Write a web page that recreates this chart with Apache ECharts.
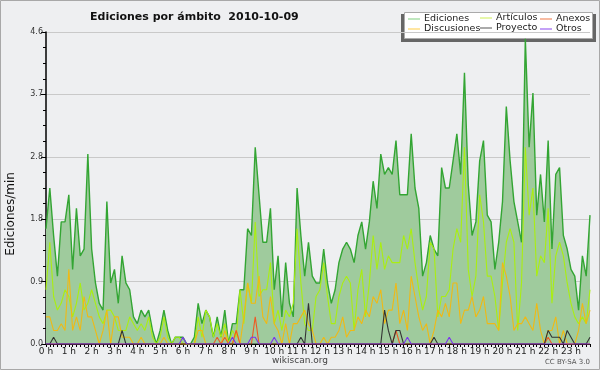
<!DOCTYPE html>
<html><head><meta charset="utf-8">
<script src="https://cdn.jsdelivr.net/npm/echarts@6/dist/echarts.min.js"></script>
<style>html,body{margin:0;padding:0;background:#eeeff1}#c{width:600px;height:370px}</style>
</head><body><div id="c"></div>
<script>
// 10-minute slots over the day
const times = Array.from({length: 144}, (_, i) => String(Math.floor(i / 6)).padStart(2, '0') + ':' + String((i % 6) * 10).padStart(2, '0'));
const hourLabels = ["0 h","1 h","2 h","3 h","4 h","5 h","6 h","7 h","8 h","9 h","10 h","11 h","12 h","13 h","14 h","15 h","16 h","17 h","18 h","19 h","20 h","21 h","22 h","23 h"];
const yTicks = [0, 0.92, 1.84, 2.76, 3.68, 4.6];

const ediciones = [
1.7,2.3,1.6,1.0,1.8,1.8,2.2,1.1,2.0,1.3,1.4,2.8,1.4,0.9,0.6,0.5,2.1,0.9,1.1,0.6,1.3,0.9,0.8,0.4,0.3,0.5,0.4,0.5,0.2,0.0,
0.2,0.5,0.2,0.0,0.1,0.1,0.1,0.0,0.0,0.1,0.6,0.3,0.5,0.4,0.1,0.4,0.1,0.5,0.0,0.3,0.3,0.8,0.8,1.7,1.6,2.9,2.2,1.5,1.5,2.0,
0.8,1.3,0.4,1.2,0.6,0.4,2.3,1.6,1.0,1.5,1.0,0.9,0.9,1.4,0.9,0.6,0.8,1.2,1.4,1.5,1.4,1.2,1.6,1.8,1.4,1.8,2.4,2.0,2.8,2.5,
2.6,2.5,3.0,2.2,2.2,2.2,3.1,2.3,2.0,1.0,1.2,1.6,1.4,1.3,2.6,2.3,2.3,2.7,3.1,2.5,4.0,2.35,1.6,1.8,2.7,3.0,1.9,1.8,1.1,1.5,
2.1,3.5,2.7,2.1,1.8,1.5,4.5,2.9,3.7,1.9,2.5,1.8,3.0,1.4,2.5,2.6,1.6,1.4,1.1,1.0,0.5,1.3,1.0,1.9];
const articulos = [
0.8,1.5,0.7,0.5,0.6,0.8,0.7,0.4,0.6,0.9,0.5,0.6,0.8,0.6,0.4,0.3,0.5,0.5,0.4,0.2,0.2,0.2,0.4,0.3,0.2,0.3,0.2,0.4,0.1,0.0,
0.1,0.4,0.1,0.0,0.1,0.1,0.0,0.0,0.0,0.0,0.4,0.1,0.5,0.4,0.1,0.3,0.1,0.3,0.0,0.2,0.1,0.8,0.3,0.9,0.6,1.8,0.7,0.8,0.8,1.2,
0.3,0.5,0.2,0.5,0.4,0.6,1.7,0.9,0.3,0.2,0.2,0.7,0.8,1.2,0.7,0.3,0.3,0.7,0.9,1.0,0.9,0.2,0.8,1.1,0.4,0.9,1.6,1.1,1.5,1.1,
1.3,1.2,1.2,1.2,1.6,1.4,1.7,1.2,0.8,0.5,0.7,1.5,1.4,0.4,0.7,0.7,0.8,1.4,1.7,1.5,2.9,1.1,0.7,1.0,2.2,1.8,1.0,1.0,0.7,0.2,
0.9,1.5,1.7,1.5,0.2,0.9,2.9,1.9,2.3,1.0,1.3,1.2,2.0,0.6,1.3,1.5,1.3,0.9,0.6,0.4,0.3,0.4,0.3,0.8];
const discusiones = [
0.4,0.4,0.2,0.2,0.3,0.2,1.1,0.2,0.4,0.2,0.7,0.4,0.4,0.2,0.0,0.2,0.5,0.0,0.4,0.4,0.1,0.1,0.1,0.0,0.0,0.1,0.0,0.0,0.0,0.0,
0.0,0.1,0.0,0.0,0.0,0.0,0.0,0.0,0.0,0.0,0.2,0.2,0.0,0.0,0.0,0.0,0.0,0.2,0.0,0.0,0.2,0.0,0.4,0.9,0.6,0.6,1.0,0.4,0.3,0.7,
0.3,0.2,0.0,0.3,0.0,0.3,0.3,0.4,0.5,0.3,0.2,0.0,0.0,0.1,0.0,0.1,0.1,0.2,0.4,0.1,0.2,0.2,0.4,0.3,0.5,0.4,0.7,0.6,0.8,0.3,
0.5,0.5,0.9,0.3,0.5,0.2,1.0,0.7,0.4,0.2,0.3,0.0,0.2,0.5,0.4,0.6,0.4,0.9,0.9,0.3,0.5,0.5,0.7,0.4,0.5,0.7,0.3,0.3,0.3,0.2,
1.2,1.0,0.7,0.2,0.3,0.3,0.4,0.3,0.2,0.6,0.2,0.0,0.2,0.2,0.4,0.0,0.2,0.0,0.0,0.0,0.2,0.6,0.3,0.5];
const anexos = [
0,0,0,0,0,0,0,0,0,0,0,0,0,0,0,0,0,0,0,0,0,0,0,0,0,0,0,0,0,0,
0,0,0,0,0,0,0,0,0,0,0,0,0,0,0,0.1,0,0.1,0,0,0.2,0,0,0,0,0.4,0,0,0,0,
0,0,0,0,0,0,0,0,0,0,0,0,0,0,0,0,0,0,0,0,0,0,0,0,0,0,0,0,0,0,
0,0,0.2,0,0,0,0,0,0,0,0,0,0,0,0,0,0,0,0,0,0,0,0,0,0,0,0,0,0,0,
0,0,0,0,0,0,0,0,0,0,0,0,0.1,0,0,0,0,0,0,0,0,0,0,0];
const proyecto = [
0,0,0.1,0,0,0,0,0,0,0,0,0,0,0,0,0,0,0,0,0,0.2,0,0,0,0,0,0,0,0,0,
0,0,0,0,0,0,0,0,0,0,0,0,0,0,0,0,0,0,0,0,0,0,0,0,0,0,0,0,0,0,
0,0,0,0,0,0,0,0.1,0,0.6,0,0,0,0,0,0,0,0,0,0,0,0,0,0,0,0,0,0,0,0.5,
0.2,0,0.2,0.2,0,0,0,0,0,0,0,0,0.1,0,0,0,0,0,0,0,0,0,0,0,0,0,0,0,0,0,
0,0,0,0,0,0,0,0,0,0,0,0,0.2,0.1,0.1,0.1,0,0.2,0.1,0,0,0,0,0.1];
const otros = [
0,0,0,0,0,0,0,0,0,0,0,0,0,0,0,0,0,0,0,0,0,0,0,0,0,0,0,0,0,0,
0,0,0,0,0,0,0.1,0,0,0,0,0,0,0,0,0,0,0,0,0.1,0,0,0,0,0.1,0.1,0,0,0,0,
0.1,0,0,0,0,0,0,0,0,0,0,0,0,0,0,0,0,0,0,0,0,0,0,0,0,0,0,0,0,0,
0,0,0,0,0,0.1,0,0,0,0,0,0,0,0,0,0,0.1,0,0,0,0,0,0,0,0,0,0,0,0,0,
0,0,0,0,0,0,0,0,0,0,0,0,0,0,0,0,0,0,0,0,0,0,0,0];

const C = {
  ed: '#33a533', edArea: '#9fcb9d', art: '#aaee11', dis: '#f0b914',
  anx: '#ee5a24', pro: '#333333', otr: '#7b33ee'
};
const FONT = 'DejaVu Sans';

function lineSeries(name, data, color, z, extra) {
  return Object.assign({
    name, type: 'line', data, symbol: 'none', z,
    lineStyle: { color, width: 1.1 }, itemStyle: { color },
    animation: false, silent: true
  }, extra || {});
}

const chart = echarts.init(document.getElementById('c'), null, { renderer: 'canvas' });
const legendCommon = {
  orient: 'vertical', icon: 'rect', itemWidth: 12, itemHeight: 1, itemGap: 0,
  selectedMode: false, padding: 0,
  textStyle: { fontFamily: FONT, fontSize: 9.5, color: '#222', lineHeight: 10, padding: [0, 0, 0, -1] }
};
chart.setOption({
  backgroundColor: '#eeeff1',
  animation: false,
  title: {
    text: 'Ediciones por ámbito  2010-10-09', left: 85, top: 7,
    textStyle: { fontFamily: FONT, fontSize: 11, fontWeight: 'bold', color: '#111' }
  },
  grid: { left: 46, right: 10, top: 32, bottom: 26, containLabel: false },
  legend: [
    Object.assign({}, legendCommon, { left: 408, top: 14, data: [
      { name: 'Ediciones', itemStyle: { color: '#7fcf7f' } },
      { name: 'Discusiones', itemStyle: { color: '#ffcc44' } }] }),
    Object.assign({}, legendCommon, { left: 480, top: 13, data: [
      { name: 'Artículos', itemStyle: { color: '#ccee55' } },
      { name: 'Proyecto', itemStyle: { color: '#555555' } }] }),
    Object.assign({}, legendCommon, { left: 540, top: 14, data: [
      { name: 'Anexos', itemStyle: { color: '#ee7744' } },
      { name: 'Otros', itemStyle: { color: '#8844ee' } }] })
  ],
  xAxis: {
    type: 'category', data: times, boundaryGap: false,
    axisLine: { lineStyle: { color: '#000', width: 1 } },
    axisTick: { show: true, interval: 0, length: 3, lineStyle: { color: '#000' } },
    axisLabel: {
      interval: 5, margin: 3, fontFamily: FONT, fontSize: 9, color: '#222',
      formatter: (v, i) => hourLabels[Math.floor(i / 6)]
    },
    splitLine: { show: false }
  },
  yAxis: {
    type: 'value', min: yTicks[0], max: yTicks[yTicks.length - 1], interval: yTicks[1],
    axisLine: { show: true, lineStyle: { color: '#000', width: 1.5 } },
    axisTick: { show: true, length: 5, lineStyle: { color: '#000' } },
    minorTick: { show: true, splitNumber: 4, length: 3, lineStyle: { color: '#000' } },
    axisLabel: { fontFamily: FONT, fontSize: 8, color: '#333', margin: 3, formatter: v => v.toFixed(1) },
    splitLine: { show: true, lineStyle: { color: '#c9c9c9', width: 1 } }
  },
  series: [
    lineSeries('Ediciones', ediciones, C.ed, 2, {
      areaStyle: { color: C.edArea, opacity: 1 }, lineStyle: { color: C.ed, width: 1.4 }
    }),
    lineSeries('Artículos', articulos, C.art, 3),
    lineSeries('Discusiones', discusiones, C.dis, 4),
    lineSeries('Anexos', anexos, C.anx, 5),
    lineSeries('Proyecto', proyecto, C.pro, 6),
    lineSeries('Otros', otros, C.otr, 7)
  ],
  graphic: [
    { type: 'rect', z: -1, silent: true, shape: { x: 0.5, y: 0.5, width: 599, height: 369 },
      style: { fill: 'none', stroke: '#a8a8a8', lineWidth: 1 } },
    { type: 'rect', z: 0, silent: true, shape: { x: 401, y: 14, width: 195, height: 28 },
      style: { fill: '#666' } },
    { type: 'rect', z: 0, silent: true, shape: { x: 404.5, y: 12.5, width: 188, height: 26 },
      style: { fill: '#fff', stroke: '#aaa', lineWidth: 1 } },
    { type: 'text', silent: true, x: 11, y: 214, rotation: Math.PI / 2,
      style: { text: 'Ediciones/min', fontFamily: FONT, fontSize: 12, fill: '#111', align: 'center', verticalAlign: 'middle' } },
    { type: 'text', silent: true, x: 300, y: 361,
      style: { text: 'wikiscan.org', fontFamily: FONT, fontSize: 9, fill: '#444', align: 'center', verticalAlign: 'middle' } },
    { type: 'text', silent: true, x: 590, y: 362,
      style: { text: 'CC BY-SA 3.0', fontFamily: FONT, fontSize: 7, fill: '#555', align: 'right', verticalAlign: 'middle' } }
  ]
});
</script></body></html>
